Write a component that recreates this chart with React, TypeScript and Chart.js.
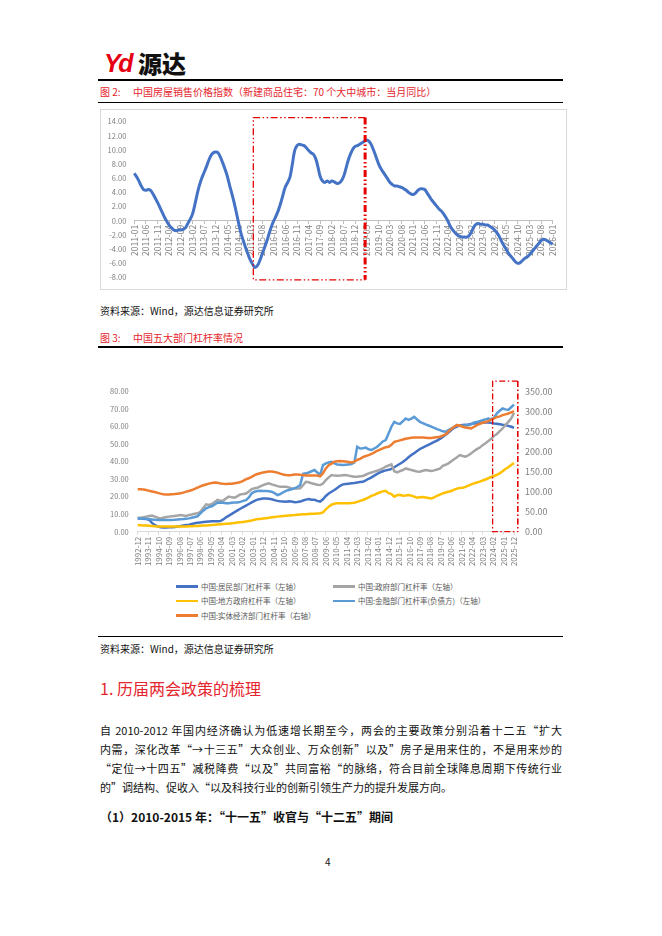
import React, { useEffect, useRef } from "react";
import { Chart, registerables } from "chart.js";

Chart.register(...registerables);

const FONT = "'Noto Sans CJK SC', 'Noto Sans', sans-serif";
Chart.defaults.font.family = FONT;

function monthLabels(startYear: number, startMonth: number, count: number): string[] {
  const out: string[] = [];
  for (let i = 0; i < count; i++) {
    const t = startYear * 12 + (startMonth - 1) + i;
    const y = Math.floor(t / 12);
    const m = (t % 12) + 1;
    out.push(`${y}-${String(m).padStart(2, "0")}`);
  }
  return out;
}

// ---------- Figure 2: 70-city new home price index, YoY (%) ----------
const priceMonths = monthLabels(2011, 1, 181); // 2011-01 .. 2026-01
const priceTickEvery = 5;
const priceYoY = [
  // 2011
  6.7, 6.2, 5.6, 4.9, 4.4, 4.3, 4.4, 4.3, 3.8, 3.2, 2.6, 1.9,
  // 2012
  1.2, 0.5, -0.1, -0.6, -1.0, -1.3, -1.4, -1.3, -1.3, -1.2, -1.0, -0.4,
  // 2013
  0.2, 0.9, 2.2, 3.7, 5.0, 6.0, 6.8, 7.6, 8.5, 9.2, 9.6, 9.7,
  // 2014
  9.6, 9.0, 8.2, 7.3, 6.3, 5.0, 3.8, 2.5, 1.0, -0.5, -1.9, -2.9,
  // 2015
  -3.9, -4.8, -5.6, -6.2, -6.6, -6.3, -5.6, -4.7, -3.8, -2.9, -1.8, -0.8,
  // 2016
  0.0, 0.7, 1.5, 2.5, 3.7, 4.8, 5.4, 6.2, 8.0, 9.9, 10.6, 10.8,
  // 2017
  10.7, 10.6, 10.3, 9.9, 9.6, 9.4, 8.8, 7.6, 6.2, 5.6, 5.4, 5.6,
  // 2018
  5.4, 5.6, 5.5, 5.3, 5.3, 5.6, 6.2, 7.3, 8.5, 9.4, 10.1, 10.5,
  // 2019
  10.6, 10.8, 11.0, 11.2, 11.4, 11.2, 10.7, 9.9, 9.0, 8.1, 7.4, 6.9,
  // 2020
  6.4, 5.9, 5.4, 5.1, 4.9, 4.9, 4.8, 4.7, 4.5, 4.3, 4.0, 3.8,
  // 2021
  3.7, 3.9, 4.3, 4.5, 4.5, 4.4, 3.9, 3.4, 2.9, 2.5, 2.1, 1.7,
  // 2022
  1.4, 1.0, 0.5, -0.1, -0.8, -1.3, -1.7, -2.0, -2.2, -2.3, -2.3, -2.3,
  // 2023
  -2.1, -1.6, -0.9, -0.5, -0.4, -0.5, -0.5, -0.6, -0.6, -0.8, -1.0, -1.3,
  // 2024
  -1.7, -2.2, -2.9, -3.5, -4.0, -4.6, -5.0, -5.4, -5.8, -6.0, -5.9, -5.6,
  // 2025
  -5.3, -5.1, -4.8, -4.4, -4.0, -3.6, -3.2, -2.8, -2.6, -2.7, -2.9, -3.1,
  // 2026
  -3.3,
];
const priceHighlight = { from: 51.2, to: 99.3, top: 14.55, bottom: -8.33 };

// ---------- Figure 3: leverage of five sectors ----------
const levMonths = monthLabels(1992, 12, 397); // 1992-12 .. 2025-12
const levTickEvery = 11;
const levStepMonths = 3; // quarterly observations
const householdLev = [
  7.5, 7.5, 7.4, 7.2, 6.8, 5.0, 3.8, 3.0, 2.6, 2.4,
  2.4, 2.5, 2.5, 2.7, 3.0, 3.2, 3.5, 3.8, 4.0, 4.4,
  4.8, 5.1, 5.3, 5.5, 5.7, 5.8, 5.9, 6.0, 6.0, 6.1,
  7.0, 8.2, 9.2, 10.2, 11.2, 12.2, 13.1, 14.0, 14.9, 15.8,
  16.7, 17.6, 18.3, 18.7, 19.0, 19.0, 18.8, 18.5, 18.0, 17.6,
  17.3, 17.2, 17.1, 17.4, 17.2, 16.8, 16.9, 17.2, 17.8, 18.3,
  18.6, 18.2, 18.2, 17.6, 17.2, 18.5, 20.4, 21.8, 22.8, 23.8,
  25.0, 26.2, 27.0, 27.2, 27.4, 27.6, 27.8, 28.1, 28.3, 28.5,
  29.3, 30.2, 31.0, 32.0, 33.0, 33.8, 34.5, 35.0, 35.3, 35.8,
  36.8, 37.8, 38.8, 39.8, 41.0, 42.5, 43.8, 44.8, 46.0, 47.2,
  48.0, 48.8, 49.6, 50.4, 51.2, 52.0, 53.0, 54.0, 55.3, 56.6,
  58.0, 59.3, 60.0, 60.6, 60.9, 61.1, 61.2, 61.5, 61.8, 62.0,
  62.1, 62.2, 62.3, 62.3, 62.1, 61.8, 61.6, 61.3, 61.0, 60.8,
  60.4, 59.9, 59.3,
];
const governmentLev = [
  8.0, 8.0, 8.2, 8.6, 9.0, 9.2, 8.6, 8.0, 7.6, 8.0,
  8.4, 8.6, 8.8, 9.0, 9.2, 9.5, 9.3, 9.0, 9.5, 9.8,
  10.3, 10.5, 11.4, 13.5, 15.6, 15.3, 15.8, 17.0, 18.1, 17.6,
  17.8, 19.0, 20.0, 19.6, 19.4, 20.3, 21.3, 21.5, 21.8, 23.0,
  24.3, 24.8, 25.1, 25.8, 26.6, 27.2, 27.6, 27.0, 26.6, 26.0,
  25.7, 25.7, 25.7, 25.2, 24.7, 24.7, 24.7, 24.8, 26.5, 28.5,
  28.2, 27.6, 27.2, 26.8, 26.6, 27.5, 29.5, 31.0, 32.3, 32.0,
  31.9, 32.0, 32.2, 32.3, 32.0, 31.7, 31.4, 31.4, 31.6, 31.8,
  32.5, 33.3, 33.8, 34.3, 34.8, 35.4, 36.1, 37.2, 37.8, 38.4,
  34.5, 33.8, 34.6, 35.2, 36.1, 35.6, 35.2, 34.8, 34.4, 34.2,
  34.8, 35.2, 34.9, 34.6, 35.0, 35.5, 36.0, 37.6, 38.2, 39.0,
  40.2, 41.4, 42.5, 43.7, 43.2, 42.8, 43.6, 44.7, 46.0, 47.1,
  48.0, 49.4, 50.5, 51.7, 53.0, 54.7, 55.8, 57.4, 59.0, 60.8,
  62.7, 64.6, 67.8,
];
const localGovLev = [
  3.8, 3.7, 3.6, 3.5, 3.4, 3.3, 3.1, 3.0, 2.9, 2.9,
  2.9, 2.9, 2.9, 2.9, 2.9, 2.9, 3.0, 3.0, 3.1, 3.1,
  3.2, 3.3, 3.4, 3.5, 3.6, 3.7, 3.8, 3.9, 4.1, 4.3,
  4.4, 4.5, 4.6, 4.8, 5.0, 5.2, 5.4, 5.6, 5.8, 6.1,
  6.4, 6.8, 7.2, 7.3, 7.5, 7.7, 7.9, 8.2, 8.4, 8.6,
  8.8, 8.9, 9.1, 9.2, 9.4, 9.5, 9.7, 9.8, 9.9, 10.0,
  10.1, 10.2, 10.3, 10.4, 10.5, 11.0, 12.8, 14.3, 15.4, 16.0,
  16.2, 16.3, 16.3, 16.3, 16.3, 16.4, 16.5, 17.0, 17.6, 18.1,
  18.8, 19.6, 20.4, 21.0, 21.8, 22.5, 23.0, 23.3, 22.0, 21.5,
  20.0, 20.8, 21.0, 20.5, 20.6, 20.9, 20.6, 20.0, 19.4, 19.6,
  19.8, 19.5, 19.2, 19.0, 19.6, 20.5, 21.2, 21.9, 22.4, 22.8,
  23.2, 24.0, 24.6, 25.0, 25.1, 25.6, 26.3, 27.0, 27.6, 28.1,
  28.6, 29.2, 29.8, 30.5, 31.2, 31.8, 32.5, 33.3, 34.5, 35.8,
  36.8, 38.0, 39.2,
];
const financialLev = [
  7.6, 7.6, 7.6, 7.4, 7.2, 7.0, 6.8, 6.7, 6.7, 6.7,
  6.7, 6.7, 6.7, 6.8, 7.0, 7.1, 7.2, 7.4, 7.6, 8.0,
  8.4, 8.8, 10.5, 12.0, 13.3, 14.0, 14.5, 15.5, 16.5, 16.7,
  16.5, 16.2, 16.3, 16.5, 16.6, 16.7, 17.0, 17.6, 18.0, 19.5,
  21.9, 22.8, 23.2, 23.3, 23.2, 23.2, 23.1, 22.8, 22.0, 20.9,
  21.5, 22.5, 23.3, 23.8, 24.2, 24.7, 25.5, 26.6, 33.0, 33.3,
  33.8, 34.5, 35.2, 33.8, 32.5, 38.0, 39.0, 39.5, 39.9, 39.0,
  38.4, 38.2, 38.0, 38.2, 38.4, 38.6, 39.5, 48.5, 47.5, 47.6,
  48.0, 47.0, 46.6, 47.5, 48.5, 50.0, 51.5, 52.3, 56.0, 59.9,
  62.7, 61.8, 61.5, 63.0, 64.6, 63.8, 64.5, 65.5, 64.0, 62.7,
  62.0, 61.2, 60.6, 59.9, 59.2, 58.5, 58.0, 57.3, 57.0, 58.0,
  58.9, 59.8, 60.8, 60.6, 60.5, 60.7, 60.8, 61.4, 62.3, 62.6,
  63.1, 63.6, 64.1, 64.6, 64.2, 65.0, 67.5, 69.0, 70.3, 69.8,
  69.5, 71.0, 72.5,
];
const realEconomyLev = [
  106, 106, 105.5, 104, 102, 100.5, 99, 97, 95, 93.5,
  93, 93, 93.5, 94, 95, 96, 97.5, 100, 101.5, 104,
  107, 110, 113, 116, 118, 120, 121.5, 122.5, 122, 120.5,
  119.5, 119, 119.5, 120, 121, 122, 124, 127, 131, 133.5,
  137, 141, 144, 146, 148, 149, 150, 150, 149, 147.5,
  145, 143, 141.5, 141, 141.5, 142.5, 143, 142, 141.5, 140.5,
  140, 140, 140, 140, 138, 146, 158, 166, 170, 175,
  176, 176.5, 176, 175, 174, 173, 175, 179, 182, 186,
  189, 191, 194, 198, 202, 205, 208, 211, 212, 217,
  224, 226, 228, 230, 232, 233.5, 234.5, 235, 235, 235,
  235, 234.5, 234, 234, 235, 236, 237, 240, 243, 250,
  256, 262, 266, 265, 262, 260, 259, 258, 262, 266,
  269, 272, 274, 276, 280, 283, 286, 288, 291, 293,
  295, 298, 301,
];
const levSeriesNames = [
  "中国:居民部门杠杆率（左轴）",
  "中国:政府部门杠杆率（左轴）",
  "中国:地方政府杠杆率（左轴）",
  "中国:金融部门杠杆率(负债方)（左轴）",
  "中国:实体经济部门杠杆率（右轴）",
];
const levSeriesColors = ["#4472C4", "#A5A5A5", "#FFC000", "#5B9BD5", "#ED7D31"];
const levSeriesValues = [householdLev, governmentLev, localGovLev, financialLev, realEconomyLev];
const levSeriesAxis = ["yL", "yL", "yL", "yL", "yR"];
const levHighlight = { from: 373.5, to: 400, top: 376, bottom: 0 };

const AXIS_TEXT = "#7f7f7f";
const RED = "#E60000";
const CAPTION_RED = "#E5252D";

function toMonthly(values: number[]): (number | null)[] {
  return levMonths.map((_, i) => (i % levStepMonths === 0 ? values[i / levStepMonths] ?? null : null));
}

function makeBoxPlugin(id: string, box: { from: number; to: number; top: number; bottom: number }, yId: string, rightWidth: number, dash: number[]) {
  return {
    id,
    afterDraw(chart: any) {
      const xs = chart.scales.x;
      const ys = chart.scales[yId];
      const l = xs.getPixelForValue(box.from);
      const r = xs.getPixelForValue(box.to);
      const t = ys.getPixelForValue(box.top);
      const b = ys.getPixelForValue(box.bottom);
      const ctx = chart.ctx;
      ctx.save();
      ctx.strokeStyle = RED;
      ctx.setLineDash(dash);
      ctx.lineWidth = 1.3;
      ctx.beginPath();
      ctx.moveTo(r, t);
      ctx.lineTo(l, t);
      ctx.lineTo(l, b);
      ctx.lineTo(r, b);
      ctx.stroke();
      ctx.lineWidth = rightWidth;
      ctx.beginPath();
      ctx.moveTo(r, t);
      ctx.lineTo(r, b);
      ctx.stroke();
      ctx.restore();
    },
  };
}

function PriceChart() {
  const ref = useRef<HTMLCanvasElement>(null);
  useEffect(() => {
    const chart = new Chart(ref.current as HTMLCanvasElement, {
      type: "line",
      data: {
        labels: priceMonths,
        datasets: [
          {
            data: priceYoY,
            borderColor: "#4472C4",
            borderWidth: 3,
            pointRadius: 0,
            tension: 0.4,
            fill: false,
          },
        ],
      },
      options: {
        animation: false,
        responsive: false,
        maintainAspectRatio: false,
        layout: { padding: { top: 11.6, bottom: 12.3, right: 14.3, left: 0 } },
        plugins: { legend: { display: false }, tooltip: { enabled: false } },
        scales: {
          x: {
            position: { y: 0 } as any,
            offset: false,
            grid: { drawOnChartArea: false, drawTicks: true, tickLength: 3, color: "#bfbfbf" },
            border: { display: true, color: "#bfbfbf" },
            ticks: {
              autoSkip: false,
              minRotation: 90,
              maxRotation: 90,
              padding: 1,
              color: AXIS_TEXT,
              font: { size: 8.5 },
              callback: (_v: any, i: number) => (i % priceTickEvery === 0 ? priceMonths[i] : null),
            },
          },
          y: {
            min: -8,
            max: 14,
            ticks: {
              stepSize: 2,
              padding: 8,
              color: AXIS_TEXT,
              font: { size: 7.5 },
              callback: (v: any) => Number(v).toFixed(2),
            },
            grid: { display: false, drawTicks: false },
            border: { display: false },
            afterFit: (s: any) => {
              s.width = 34.3;
            },
          },
        },
      },
      plugins: [makeBoxPlugin("priceBox", priceHighlight, "y", 3, [7, 2.5, 1.5, 2.5, 1.5, 2.5])],
    } as any);
    return () => chart.destroy();
  }, []);
  return (
    <canvas
      ref={ref}
      width={467}
      height={181}
      style={{ position: "absolute", left: 100, top: 109, width: 467, height: 181 }}
    />
  );
}

function LeverageChart() {
  const ref = useRef<HTMLCanvasElement>(null);
  useEffect(() => {
    const datasets = levSeriesValues.map((vals, k) => ({
      label: levSeriesNames[k],
      data: toMonthly(vals),
      borderColor: levSeriesColors[k],
      backgroundColor: levSeriesColors[k],
      borderWidth: 2.5,
      pointRadius: 0,
      tension: 0,
      spanGaps: true,
      fill: false,
      yAxisID: levSeriesAxis[k],
      order: levSeriesValues.length - k,
    }));
    const chart = new Chart(ref.current as HTMLCanvasElement, {
      type: "line",
      data: { labels: levMonths, datasets },
      options: {
        animation: false,
        responsive: false,
        maintainAspectRatio: false,
        layout: { padding: { top: 16.5, bottom: 0, left: 0, right: 0 } },
        plugins: { legend: { display: false }, tooltip: { enabled: false } },
        scales: {
          x: {
            offset: false,
            grid: { drawOnChartArea: false, drawTicks: true, tickLength: 3, color: "#d9d9d9" },
            border: { display: true, color: "#d9d9d9" },
            ticks: {
              autoSkip: false,
              minRotation: 90,
              maxRotation: 90,
              padding: 2,
              color: AXIS_TEXT,
              font: { size: 8 },
              callback: (_v: any, i: number) => (i % levTickEvery === 0 ? levMonths[i] : null),
            },
            afterFit: (s: any) => {
              s.height = 43.3;
            },
          },
          yL: {
            position: "left",
            min: 0,
            max: 80,
            ticks: {
              stepSize: 10,
              padding: 9,
              color: AXIS_TEXT,
              font: { size: 7.5 },
              callback: (v: any) => Number(v).toFixed(2),
            },
            grid: { display: false, drawTicks: false },
            border: { display: false },
            afterFit: (s: any) => {
              s.width = 37.7;
            },
          },
          yR: {
            position: "right",
            min: 0,
            max: 350,
            ticks: {
              stepSize: 50,
              padding: 11,
              color: AXIS_TEXT,
              font: { size: 9 },
              callback: (v: any) => Number(v).toFixed(2),
            },
            grid: { display: false, drawTicks: false },
            border: { display: false },
            afterFit: (s: any) => {
              s.width = 53;
            },
          },
        },
      },
      plugins: [makeBoxPlugin("levBox", levHighlight, "yR", 1.6, [6, 2.5, 1.5, 2.5])],
    } as any);
    return () => chart.destroy();
  }, []);
  return (
    <canvas
      ref={ref}
      width={467}
      height={200}
      style={{ position: "absolute", left: 100, top: 375, width: 467, height: 200 }}
    />
  );
}

const legendSlots = [
  { left: 176, cy: 586.7 },
  { left: 333, cy: 586.7 },
  { left: 176, cy: 601 },
  { left: 333, cy: 601 },
  { left: 176, cy: 615.7 },
];

function Rule({ top, h = 1 }: { top: number; h?: number }) {
  return <div style={{ position: "absolute", left: 98, top, width: 465, height: h, background: "#000" }} />;
}

const paragraphLines = [
  "自 2010-2012 年国内经济确认为低速增长期至今，两会的主要政策分别沿着十二五“扩大",
  "内需，深化改革“→十三五”大众创业、万众创新”以及”房子是用来住的，不是用来炒的",
  "“定位→十四五”减税降费“以及”共同富裕“的脉络，符合目前全球降息周期下传统行业",
];
const paragraphLast = "的”调结构、促收入“以及科技行业的创新引领生产力的提升发展方向。";

export default function App() {
  const text: React.CSSProperties = { position: "absolute", fontFamily: FONT, whiteSpace: "nowrap" };
  return (
    <div
      style={{
        position: "absolute",
        left: 0,
        top: 0,
        width: 662,
        height: 936,
        background: "#fff",
        overflow: "hidden",
        fontFamily: FONT,
      }}
    >
      {/* logo */}
      <div
        style={{
          ...text,
          left: 104,
          top: 49,
          fontFamily: "'Liberation Sans', Arial, sans-serif",
          fontWeight: 900,
          fontStyle: "italic",
          fontSize: 25,
          lineHeight: "28px",
          letterSpacing: -2.5,
          color: "#E60012",
        }}
      >
        Yd
      </div>
      <div style={{ ...text, left: 138, top: 49, fontSize: 24, lineHeight: "28px", fontWeight: 900, color: "#111" }}>
        源达
      </div>

      <Rule top={79} h={1.5} />
      <div style={{ ...text, left: 100, top: 85.3, fontSize: 10, lineHeight: "14px", color: CAPTION_RED }}>图 2:</div>
      <div style={{ ...text, left: 133, top: 85.3, fontSize: 10, lineHeight: "14px", color: CAPTION_RED }}>
        中国房屋销售价格指数（新建商品住宅：70 个大中城市：当月同比）
      </div>
      <Rule top={101.5} h={1} />

      <div
        style={{
          position: "absolute",
          left: 100,
          top: 109,
          width: 467,
          height: 181,
          border: "1px solid #d9d9d9",
          boxSizing: "border-box",
        }}
      />
      <PriceChart />

      <div style={{ ...text, left: 100, top: 304, fontSize: 10, lineHeight: "14px", color: "#111" }}>
        资料来源：Wind，源达信息证券研究所
      </div>

      <div style={{ ...text, left: 100, top: 331.3, fontSize: 10, lineHeight: "14px", color: CAPTION_RED }}>图 3:</div>
      <div style={{ ...text, left: 133, top: 331.3, fontSize: 10, lineHeight: "14px", color: CAPTION_RED }}>
        中国五大部门杠杆率情况
      </div>
      <Rule top={346} h={1.5} />

      <LeverageChart />

      {levSeriesNames.map((name, k) => (
        <div
          key={name}
          style={{
            position: "absolute",
            left: legendSlots[k].left,
            top: legendSlots[k].cy - 7,
            height: 14,
            display: "flex",
            alignItems: "center",
            whiteSpace: "nowrap",
          }}
        >
          <span style={{ display: "inline-block", width: 22, height: 2.5, background: levSeriesColors[k], marginRight: 3 }} />
          <span style={{ fontFamily: FONT, fontSize: 7.5, color: "#595959", lineHeight: "14px" }}>{name}</span>
        </div>
      ))}

      <Rule top={635.5} h={1} />
      <div style={{ ...text, left: 100, top: 642, fontSize: 10, lineHeight: "14px", color: "#111" }}>
        资料来源：Wind，源达信息证券研究所
      </div>

      <div style={{ ...text, left: 100, top: 677.3, fontSize: 16, lineHeight: "22px", color: CAPTION_RED }}>
        1. 历届两会政策的梳理
      </div>

      {paragraphLines.map((line, i) => (
        <div
          key={i}
          style={{
            position: "absolute",
            left: 100,
            top: 720.5 + i * 19.1,
            width: 462,
            fontFamily: FONT,
            fontSize: 11,
            lineHeight: "19px",
            color: "#111",
            textAlign: "justify",
            textAlignLast: "justify",
            height: 19,
            overflow: "visible",
          }}
        >
          {line}
        </div>
      ))}
      <div style={{ ...text, left: 100, top: 777.8, fontSize: 11, lineHeight: "19px", color: "#111" }}>{paragraphLast}</div>

      <div style={{ ...text, left: 100, top: 806.5, fontSize: 12, lineHeight: "19px", fontWeight: 700, color: "#111" }}>
        （1）2010-2015 年：“十一五”收官与“十二五”期间
      </div>

      <div style={{ ...text, left: 325, top: 855, fontSize: 10, lineHeight: "14px", color: "#111" }}>4</div>
    </div>
  );
}
